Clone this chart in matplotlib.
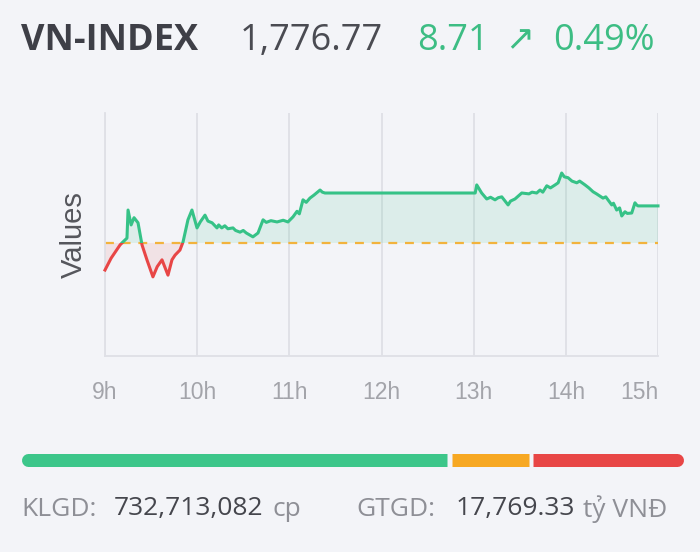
import matplotlib
matplotlib.use("Agg")
import matplotlib.pyplot as plt
from matplotlib.patches import Rectangle
import numpy as np

# ---------------- data ----------------
title = "VN-INDEX"
last_value = "1,776.77"
change = "8.71"
change_pct = "0.49%"
reference_value = 1768.06

# minutes since 9:00
minutes = [0, 4, 9.8, 11.7, 14.3, 15, 17, 18.9, 21.5, 24.1, 27.3, 31.2, 34, 37.1, 41,
           43.6, 45.6, 48.8, 50.8, 54, 56.6, 59.9, 62, 65.1, 67, 69.7, 72.9, 74, 76, 78,
           80, 83.3, 85, 87.9, 90, 92, 96.3, 99.6, 102.9, 105, 108, 112, 116, 119.1,
           122.4, 125, 126.5, 128.9, 131, 133.4, 136, 140, 141.5, 143.2, 241, 242.0,
           245.2, 248.5, 251, 253.9, 256, 258.3, 262.4, 264, 266.9, 271.3, 276, 278,
           281.0, 283.2, 285, 287.6, 290, 293.0, 295, 297.3, 299, 301.4, 304, 307.1,
           309, 312.5, 315, 317.7, 320, 324.2, 326, 329.9, 331, 333.1, 335, 336.4,
           338.5, 340, 342.9, 345.0, 346.1, 347, 360]
values = [1761.7, 1764.5, 1767.6, 1768.3, 1769.2, 1775.8, 1772.3, 1774.0, 1772.8, 1767.6,
          1764.1, 1760.1, 1762.5, 1764.1, 1760.5, 1764.1, 1765.2, 1766.4, 1768.3, 1773.5,
          1775.8, 1771.6, 1773.0, 1774.6, 1773.2, 1772.8, 1771.6, 1772.3, 1771.6, 1772.1,
          1771.4, 1771.6, 1771.0, 1770.6, 1771.0, 1770.4, 1769.5, 1770.4, 1773.5, 1772.9,
          1773.3, 1773.0, 1773.4, 1773.0, 1774.2, 1775.5, 1774.9, 1778.2, 1777.6, 1778.6,
          1779.3, 1780.5, 1780.0, 1779.8, 1779.8, 1781.7, 1779.8, 1778.4, 1778.8, 1778.2,
          1778.7, 1778.9, 1777.0, 1777.9, 1778.4, 1779.8, 1779.6, 1780.0, 1779.8, 1780.5,
          1780.0, 1781.5, 1781.0, 1781.7, 1782.2, 1784.5, 1783.6, 1783.4, 1782.6, 1782.2,
          1782.6, 1781.7, 1781.0, 1780.1, 1779.6, 1778.6, 1778.9, 1777.0, 1777.4, 1775.8,
          1776.3, 1774.4, 1775.4, 1775.0, 1775.1, 1777.5, 1777.0, 1776.77, 1776.77]

hour_ticks = [0, 60, 120, 180, 240, 300, 360]
hour_labels = ["9h", "10h", "11h", "12h", "13h", "14h", "15h"]

breadth_values = [426, 77, 150]          # advancing / unchanged / declining (bar widths)
breadth_colors = ["#3cc68a", "#f7a823", "#e84646"]

volume_label = "KLGD:"
volume_value = "732,713,082"
volume_unit = "cp"
turnover_label = "GTGD:"
turnover_value = "17,769.33"
turnover_unit = "tỷ VNĐ"

# ---------------- style ----------------
BG = "#f3f4f8"
GREEN = "#36c287"
RED = "#e84646"
GRID = "#dfe0e6"

W, H = 700, 552
fig = plt.figure(figsize=(7, 5.52), dpi=100, facecolor=BG)

def fx(px):
    return px / W

def fy(py):
    return 1 - py / H

# ---------------- header ----------------
hy = fy(41.5)
fig.text(fx(21), hy, title, fontsize=26, fontweight="bold", color="#3e3f47",
         family="Open Sans", va="center", ha="left")
fig.text(fx(240), hy, last_value, fontsize=26, color="#4a4b52",
         family="Open Sans", va="center", ha="left")
fig.text(fx(417), hy, change, fontsize=26, color="#3dbd84",
         family="Open Sans", va="center", ha="left")
fig.text(fx(505), fy(40), "↗", fontsize=25, color="#3dbd84",
         family="DejaVu Sans", va="center", ha="left")
fig.text(fx(553), hy, change_pct, fontsize=26, color="#3dbd84",
         family="Open Sans", va="center", ha="left")

# ---------------- main chart ----------------
left, right, top, bottom = 105, 658, 113, 356
ax = fig.add_axes([fx(left), fy(bottom), fx(right - left), (bottom - top) / H])
ax.set_facecolor(BG)

x = np.array(minutes, dtype=float)
y = np.array(values, dtype=float)

ymin, ymax = 1741.5, 1798.6
ax.set_xlim(0, 360)
ax.set_ylim(ymin, ymax)

for t in hour_ticks:
    ax.axvline(t, color=GRID, lw=1.3, zorder=0)

ax.fill_between(x, y, reference_value, where=y >= reference_value, interpolate=True,
                color=GREEN, alpha=0.12, lw=0, zorder=1)
ax.fill_between(x, y, reference_value, where=y <= reference_value, interpolate=True,
                color=RED, alpha=0.10, lw=0, zorder=1)

up_line, = ax.plot(x, y, color=GREEN, lw=2.2, zorder=3, solid_joinstyle="round")
dn_line, = ax.plot(x, y, color=RED, lw=2.2, zorder=3, solid_joinstyle="round")
up_clip = Rectangle((-10, reference_value), 400, 200, transform=ax.transData,
                    fill=False, visible=False)
dn_clip = Rectangle((-10, reference_value - 200), 400, 200, transform=ax.transData,
                    fill=False, visible=False)
ax.add_patch(up_clip)
ax.add_patch(dn_clip)
up_line.set_clip_path(up_clip)
dn_line.set_clip_path(dn_clip)

ax.axhline(reference_value, color="#f2b33d", lw=1.6, ls=(0, (4, 3.5)), zorder=2)

for s in ["top", "right"]:
    ax.spines[s].set_visible(False)
for s in ["left", "bottom"]:
    ax.spines[s].set_color(GRID)
    ax.spines[s].set_linewidth(1.3)

ax.set_yticks([])
ax.set_xticks(hour_ticks)
ax.set_xticklabels(hour_labels, fontsize=16.5, color="#a3a4aa", family="Liberation Sans")
ax.tick_params(axis="x", length=0, pad=18)
ax.get_xticklabels()[-1].set_ha("right")
ax.get_xticklabels()[-1].set_x(360)

ax.set_ylabel("Values", fontsize=21, color="#55565c", family="Liberation Sans", labelpad=12)

# ---------------- breadth bar ----------------
bx0, bx1, by = 21, 683, 459.5
bax = fig.add_axes([fx(bx0), fy(by + 10), fx(bx1 - bx0), 20 / H])
bax.set_axis_off()
bax.set_facecolor("none")
gap = 4.5
total_px = bx1 - bx0
n = len(breadth_values)
usable = total_px - gap * (n - 1)
scale = usable / sum(breadth_values)
bax.set_xlim(0, total_px)
bax.set_ylim(-1, 1)
lw_pt = 13 * 72 / 100
r = 6.5
start = 0.0
for i, (v, c) in enumerate(zip(breadth_values, breadth_colors)):
    w = v * scale
    s, e = start, start + w
    s_in = s + r if i == 0 else s
    e_in = e - r if i == n - 1 else e
    bax.plot([s_in, e_in], [0, 0], color=c, lw=lw_pt, solid_capstyle="butt",
             clip_on=False, zorder=3)
    if i == 0:
        bax.plot([s + r, s + 4 * r], [0, 0], color=c, lw=lw_pt, solid_capstyle="round",
                 clip_on=False, zorder=2)
    if i == n - 1:
        bax.plot([e - 4 * r, e - r], [0, 0], color=c, lw=lw_pt, solid_capstyle="round",
                 clip_on=False, zorder=2)
    start = e + gap

# ---------------- footer ----------------
fy_txt = fy(509)
grey = "#8e8f96"
dark = "#45464d"
fs = 19
fig.text(fx(21), fy_txt, volume_label, fontsize=fs, color=grey, family="Open Sans", va="center")
fig.text(fx(114), fy_txt, volume_value, fontsize=fs, color=dark, family="Open Sans", va="center")
fig.text(fx(273), fy_txt, volume_unit, fontsize=fs, color=grey, family="Open Sans", va="center")
fig.text(fx(356), fy_txt, turnover_label, fontsize=fs, color=grey, family="Open Sans", va="center")
fig.text(fx(456), fy_txt, turnover_value, fontsize=fs, color=dark, family="Open Sans", va="center")
fig.text(fx(583), fy_txt, turnover_unit, fontsize=fs, color=grey, family="Open Sans", va="center")

fig.savefig("out.png", dpi=100, facecolor=BG)
